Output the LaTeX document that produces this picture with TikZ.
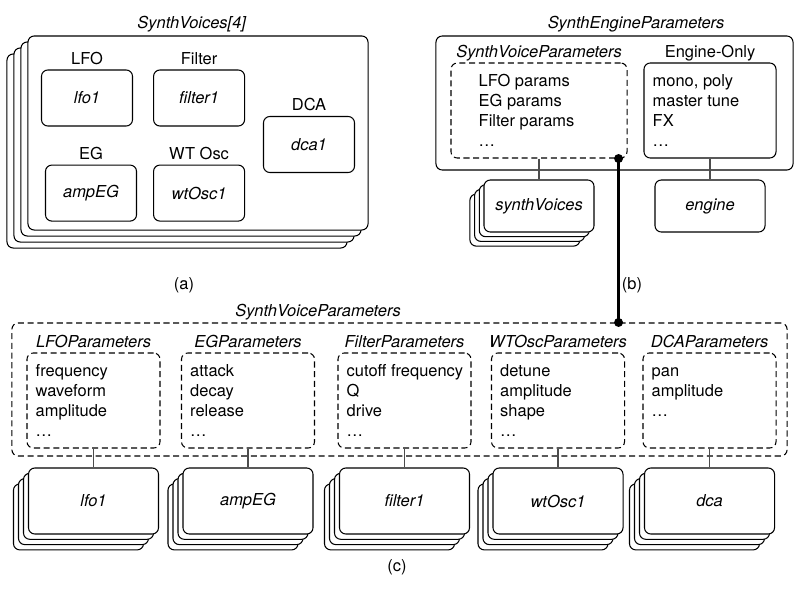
\documentclass[tikz,border=0pt]{standalone}
\usepackage{fontspec}
\setmainfont{TeX Gyre Heros}
\usetikzlibrary{calc, positioning}

\tikzset{
    box/.style={draw, rounded corners=4.5pt, line width=0.75pt, fill=white, inner sep=0pt},
    dashbox/.style={box, dash pattern=on 4.3pt off 2.6pt},
    module/.style={box, minimum width=2.275cm, minimum height=1.4cm},
    parbox/.style={dashbox, minimum width=3.325cm, minimum height=2.375cm},
    instance/.style={box, minimum width=3.25cm, minimum height=1.65cm},
    heading/.style={inner sep=3.5pt, text depth=0pt},
    listtext/.style={align=left, inner sep=0pt, anchor=north west},
    wire/.style={line width=0.75pt, black!70},
    link/.style={line width=2pt},
}

\begin{document}
\begin{tikzpicture}[x=0.025cm, y=-0.025cm, every node/.style={font=\fontsize{11.7}{14.2}\selectfont}]

    \useasboundingbox (0,0) rectangle (800,592);

    % (a) voices
    \node (voicesTitle) at (192,24) {\textit{SynthVoices[4]}};
    \foreach \k in {3,2,1}
        \node[box, minimum width=8.5cm, minimum height=4.85cm] (voice\k) at ($(198,133)+(-7*\k,6*\k)$) {};
    \node[box, minimum width=8.5cm, minimum height=4.85cm] (voice0) at (198,133) {};
    \node[module, label={[heading]above:LFO}] (lfo) at (87,98) {\textit{lfo1}};
    \node[module, right=0.5cm of lfo, label={[heading]above:Filter}] (filter) {\textit{filter1}};
    \node[module, below=0.95cm of filter, label={[heading]above:WT Osc}] (wtOsc) {\textit{wtOsc1}};
    \node[module, left=0.4cm of wtOsc, label={[heading]above:EG}] (eg) {\textit{ampEG}};
    \node[module, label={[heading]above:DCA}] (dca) at (309,144.5) {\textit{dca1}};
    \node (aLabel) at (184,285) {(a)};

    % (b) engine
    \node (engineTitle) at (636,24) {\textit{SynthEngineParameters}};
    \node[box, minimum width=8.925cm, minimum height=3.35cm] (engineParams) at (614.5,103) {};
    \node[dashbox, minimum width=4.4cm, minimum height=2.375cm,
        label={[heading]above:\textit{SynthVoiceParameters}}] (voicePar) at (539,110.5) {};
    \node[listtext] (voiceParList) at ($(voicePar.north west)+(28,10)$)
        {\strut LFO params\\EG params\\Filter params\\\dots};
    \node[box, minimum width=3.3cm, minimum height=2.375cm,
        label={[heading]above:Engine-Only}] (engineOnly) at (710,110.5) {};
    \node[listtext] (engineOnlyList) at ($(engineOnly.north west)+(9,10)$)
        {\strut mono, poly\\master tune\\FX\\\dots};

    \foreach \k in {3,2,1}
        \node[box, minimum width=2.75cm, minimum height=1.3cm] (voices\k) at ($(539,206)+(-4.7*\k,4.7*\k)$) {};
    \node[box, minimum width=2.75cm, minimum height=1.3cm] (voices0) at (539,206) {\textit{synthVoices}};
    \node[box, minimum width=2.75cm, minimum height=1.3cm] (engine) at (710,206) {\textit{engine}};
    \draw[wire] (voicePar) -- (voices0);
    \draw[wire] (engineOnly) -- (engine);
    \node (bLabel) at (632,285) {(b)};

    % (c) voice parameters
    \node (svpTitle) at (318,312) {\textit{SynthVoiceParameters}};
    \node[dashbox, minimum width=19.375cm, minimum height=3.325cm] (svpAll) at (399.5,389.5) {};
    \foreach \pname/\x/\ptitle/\items/\obj in {
        lfoPar/93.5/LFOParameters/{frequency\\waveform\\amplitude\\\dots}/lfo1,
        egPar/248/EGParameters/{attack\\decay\\release\\\dots}/ampEG,
        filterPar/404.5/FilterParameters/{cutoff frequency\\Q\\drive\\\dots}/filter1,
        wtPar/558/WTOscParameters/{detune\\amplitude\\shape\\\dots}/wtOsc1,
        dcaPar/709.5/DCAParameters/{pan\\amplitude\\\dots}/dca}
    {
        \node[parbox, label={[heading]above:\textit{\ptitle}}] (\pname) at (\x,400.5) {};
        \node[listtext] (\pname-list) at ($(\pname.north west)+(9,10)$) {\strut\items};
        \foreach \k in {3,2,1}
            \node[instance] (\pname-copy\k) at ($(\x,501)+(-5*\k,5.3*\k)$) {};
        \node[instance] (\pname-obj) at (\x,501) {\textit{\obj}};
        \draw[wire] (\pname) -- (\pname-obj);
    }
    \node (cLabel) at (397,567) {(c)};

    % link between (b) and (c)
    \coordinate (linkTop) at ($(voicePar.south east)+(-9,0)$);
    \coordinate (linkBottom) at (linkTop |- svpAll.north);
    \draw[link] (linkTop) -- (linkBottom);
    \fill (linkTop) circle (3.2pt);
    \fill (linkBottom) circle (3.2pt);

\end{tikzpicture}
\end{document}
